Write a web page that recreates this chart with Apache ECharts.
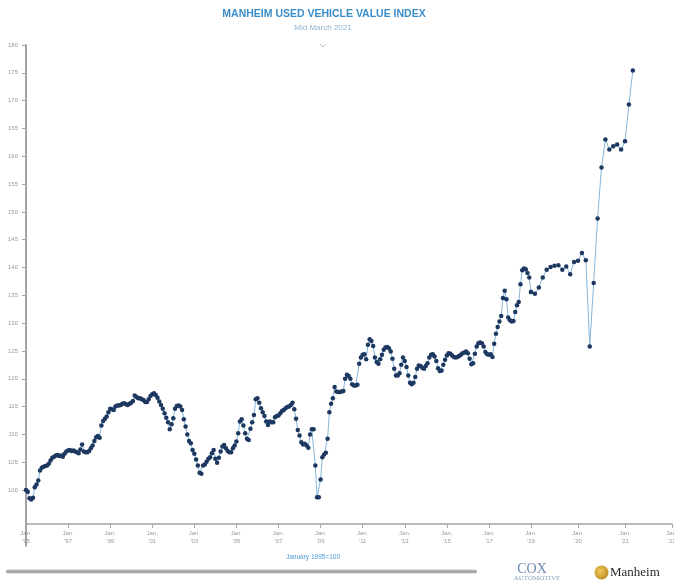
<!DOCTYPE html>
<html>
<head>
<meta charset="utf-8">
<script src="https://cdn.jsdelivr.net/npm/echarts@6/dist/echarts.min.js"></script>
<style>
html,body{margin:0;padding:0;background:#ffffff;}
#chart{width:674px;height:584px;}
</style>
</head>
<body>
<div id="chart"></div>
<script>
// Manheim Used Vehicle Value Index, monthly (January 1995 = 100)
const v1995 = [100.0, 99.7, 98.5, 98.3, 98.6, 100.5, 101.0, 101.7, 103.5, 104.0, 104.2, 104.3];
const v1996 = [104.4, 104.7, 105.3, 105.8, 106.0, 106.2, 106.3, 106.1, 106.2, 106.0, 106.5, 106.9];
const v1997 = [107.1, 107.2, 107.0, 107.1, 106.9, 106.8, 106.6, 107.3, 108.2, 106.9, 106.8, 106.8];
const v1998 = [107.0, 107.5, 108.0, 108.8, 109.5, 109.7, 109.4, 111.6, 112.4, 112.8, 113.2, 114.0];
const v1999 = [114.6, 114.5, 114.4, 115.0, 115.2, 115.2, 115.3, 115.5, 115.6, 115.4, 115.3, 115.5];
const v2000 = [115.7, 116.0, 117.0, 116.7, 116.5, 116.5, 116.3, 116.2, 115.8, 115.8, 116.3, 116.9];
const v2001 = [117.2, 117.4, 117.1, 116.6, 115.9, 115.3, 114.6, 113.8, 113.0, 112.2, 110.9, 111.8];
const v2002 = [112.9, 114.6, 115.1, 115.2, 115.0, 114.4, 112.7, 111.4, 110.0, 108.8, 108.4, 107.2];
const v2003 = [106.5, 105.5, 104.4, 103.1, 102.9, 104.4, 104.6, 105.1, 105.6, 105.9, 106.6, 107.2];
const v2004 = [105.6, 104.9, 105.8, 106.9, 107.8, 108.1, 107.5, 107.0, 106.8, 106.8, 107.5, 108.0];
const v2005 = [108.7, 110.2, 112.3, 112.7, 111.6, 110.2, 109.2, 109.0, 111.0, 112.2, 113.5, 116.3];
const v2006 = [116.5, 115.7, 114.7, 114.0, 113.3, 112.3, 111.7, 112.3, 112.2, 112.2, 113.1, 113.3];
const v2007 = [113.4, 113.8, 114.2, 114.4, 114.7, 114.9, 115.0, 115.3, 115.7, 114.5, 112.8, 110.8];
const v2008 = [109.8, 108.6, 108.2, 108.3, 108.0, 107.6, 110.0, 110.9, 110.9, 104.4, 98.7, 98.7];
const v2009 = [101.9, 105.9, 106.4, 106.7, 109.2, 114.0, 115.5, 116.5, 118.5, 117.7, 117.6, 117.6];
const v2010 = [117.7, 117.8, 120.0, 120.7, 120.5, 120.0, 119.0, 118.8, 118.8, 118.9, 122.7, 123.8];
const v2011 = [124.3, 124.4, 123.5, 126.1, 127.1, 126.8, 125.9, 123.8, 123.0, 122.7, 123.5, 124.3];
const v2012 = [125.2, 125.6, 125.7, 125.5, 124.9, 123.6, 121.8, 120.6, 120.6, 121.0, 122.5, 123.8];
const v2013 = [123.2, 122.1, 120.6, 119.3, 119.0, 119.3, 120.3, 121.8, 122.4, 122.3, 122.0, 121.8];
const v2014 = [122.3, 122.8, 123.8, 124.3, 124.4, 124.0, 123.2, 121.9, 121.4, 121.5, 122.5, 123.4];
const v2015 = [124.2, 124.6, 124.5, 124.2, 123.9, 123.8, 123.9, 124.1, 124.3, 124.6, 124.7, 124.9];
const v2016 = [124.6, 123.6, 122.6, 122.8, 124.5, 125.8, 126.4, 126.5, 126.4, 125.8, 124.8, 124.4];
const v2017 = [124.3, 124.4, 123.9, 126.3, 128.1, 129.3, 130.3, 131.3, 134.5, 135.8, 134.3, 131.0];
const v2018 = [130.5, 130.3, 130.4, 132.0, 133.2, 133.8, 137.0, 139.5, 139.8, 139.7, 139.0, 138.2];
const v2019 = [135.6, 135.3, 136.4, 138.2, 139.6, 140.1, 140.3, 140.4, 139.6, 140.2, 138.8, 141.0];
const v2020 = [141.2, 142.6, 141.3, 125.8, 137.2, 148.8, 158.0, 163.0, 161.2, 161.8, 162.1, 161.2];
const v2021 = [162.7, 169.3, 175.4];

const firstYear = 1995;
const splitYear = 2019;   // the axis scale changes at Jan. '19
const lastAxisYear = 2022;
const yTickValues = [100,105,110,115,120,125,130,135,140,145,150,155,160,165,170,175,180];

const yearly = [v1995,v1996,v1997,v1998,v1999,v2000,v2001,v2002,v2003,v2004,v2005,v2006,v2007,
  v2008,v2009,v2010,v2011,v2012,v2013,v2014,v2015,v2016,v2017,v2018,v2019,v2020,v2021];
const values = [].concat(...yearly);

function monthCats(y0, y1) { // Jan y0 .. Jan y1 inclusive
  const out = [];
  for (let y = y0; y < y1; y++) for (let m = 1; m <= 12; m++) out.push(y + '-' + String(m).padStart(2,'0'));
  out.push(y1 + '-01');
  return out;
}
const catsA = monthCats(firstYear, splitYear);
const catsB = monthCats(splitYear, lastAxisYear);
const splitIdx = (splitYear - firstYear) * 12;
const dataA = values.slice(0, splitIdx + 1);
const dataB = values.slice(splitIdx);

const isJan = v => v.slice(5) === '01';
const yr = v => parseInt(v.slice(0,4), 10);
const fmtX = v => "Jan.\n'" + v.slice(2,4);

const axisGrey = '#a3a3a3';
const labelGrey = '#9a9a9a';
const FONT = 'Liberation Sans';
const gridTop = 45, yMin = 90, yMax = 180;
const pxPerUnit = 5.5625;
const gridBottomY = gridTop + (yMax - yMin) * pxPerUnit;
const gridBottom = 584 - gridBottomY;
const xAxisY = 524;

const xCommon = {
  type: 'category', boundaryGap: false,
  offset: xAxisY - gridBottomY,
  axisLine: { show: true, lineStyle: { color: axisGrey, width: 1.5 } },
  splitLine: { show: false }
};

const chart = echarts.init(document.getElementById('chart'), null, { renderer: 'canvas' });
chart.setOption({
  animation: false,
  backgroundColor: '#ffffff',
  grid: [
    { left: 26, right: 674 - 531, top: gridTop, bottom: gridBottom, containLabel: false, outerBoundsMode: 'none' },
    { left: 531, right: 2, top: gridTop, bottom: gridBottom, containLabel: false, outerBoundsMode: 'none' }
  ],
  xAxis: [
    Object.assign({}, xCommon, {
      gridIndex: 0, data: catsA,
      axisTick: { show: true, length: 4, lineStyle: { color: axisGrey },
        interval: (i, v) => isJan(v) && (yr(v) - firstYear) % 2 === 0 && yr(v) !== firstYear && yr(v) < splitYear },
      axisLabel: { show: true,
        interval: (i, v) => isJan(v) && (yr(v) - firstYear) % 2 === 0 && yr(v) < splitYear,
        formatter: fmtX, fontSize: 6, lineHeight: 8, color: labelGrey, fontFamily: FONT, margin: 5 }
    }),
    Object.assign({}, xCommon, {
      gridIndex: 1, data: catsB,
      axisTick: { show: true, length: 4, lineStyle: { color: axisGrey }, interval: (i, v) => isJan(v) },
      axisLabel: { show: true,
        interval: (i, v) => isJan(v),
        formatter: fmtX, fontSize: 6, lineHeight: 8, color: labelGrey, fontFamily: FONT, margin: 5 }
    })
  ],
  yAxis: [
    { gridIndex: 0, type: 'value', min: yMin, max: yMax, interval: 5,
      axisLine: { show: true, lineStyle: { color: axisGrey, width: 2 } },
      axisTick: { show: true, length: 4, customValues: yTickValues, lineStyle: { color: axisGrey } },
      axisLabel: { customValues: yTickValues, fontSize: 6, color: labelGrey, fontFamily: FONT, margin: 8,
        formatter: v => (v < 100 ? '' : String(v)) },
      splitLine: { show: false } },
    { gridIndex: 1, type: 'value', min: yMin, max: yMax, interval: 5, show: false,
      splitLine: { show: false } }
  ],
  series: [
    { type: 'line', xAxisIndex: 0, yAxisIndex: 0, data: dataA,
      symbol: 'circle', symbolSize: 4.5, showAllSymbol: true,
      lineStyle: { color: '#86b6dc', width: 1 }, itemStyle: { color: '#1d3860' } },
    { type: 'line', xAxisIndex: 1, yAxisIndex: 1, data: dataB,
      symbol: 'circle', symbolSize: 4.5, showAllSymbol: true,
      lineStyle: { color: '#86b6dc', width: 1 }, itemStyle: { color: '#1d3860' } }
  ],
  graphic: [
    { type: 'text', x: 324, y: 14, style: { text: 'MANHEIM USED VEHICLE VALUE INDEX',
      font: 'bold 10.5px "Liberation Sans"', fill: '#3a8dc9', align: 'center', verticalAlign: 'middle' } },
    { type: 'text', x: 323, y: 28, style: { text: 'Mid March 2021',
      font: '8px "Liberation Sans"', fill: '#8fb3cf', align: 'center', verticalAlign: 'middle' } },
    { type: 'polyline', shape: { points: [[320, 44], [323, 47], [326, 44]] },
      style: { stroke: '#b8c4cf', lineWidth: 1, fill: null } },
    { type: 'text', x: 313, y: 557, style: { text: 'January 1995=100',
      font: '6.5px "Liberation Sans"', fill: '#4c9ad6', align: 'center', verticalAlign: 'middle' } },
    { type: 'rect', shape: { x: 6, y: 569.5, width: 471, height: 4, r: 2 },
      style: { fill: new echarts.graphic.LinearGradient(0, 0, 0, 1, [
        { offset: 0, color: '#c4c4c4' }, { offset: 0.5, color: '#a2a2a2' }, { offset: 1, color: '#bdbdbd' }]) } },
    { type: 'text', x: 532, y: 569, style: { text: 'COX',
      font: '14px "Liberation Serif"', fill: '#6f88ab', align: 'center', verticalAlign: 'middle' } },
    { type: 'text', x: 537, y: 578, style: { text: 'AUTOMOTIVE',
      font: '7px "Liberation Serif"', fill: '#8ea2bd', align: 'center', verticalAlign: 'middle' } },
    { type: 'circle', shape: { cx: 601.5, cy: 572.5, r: 7 },
      style: { fill: new echarts.graphic.RadialGradient(0.4, 0.4, 0.7, [
        { offset: 0, color: '#f0c95a' }, { offset: 1, color: '#b8861e' }]) } },
    { type: 'text', x: 610, y: 573, style: { text: 'Manheim',
      font: '13px "Liberation Serif"', fill: '#2a2a2a', align: 'left', verticalAlign: 'middle' } }
  ]
});
</script>
</body>
</html>
